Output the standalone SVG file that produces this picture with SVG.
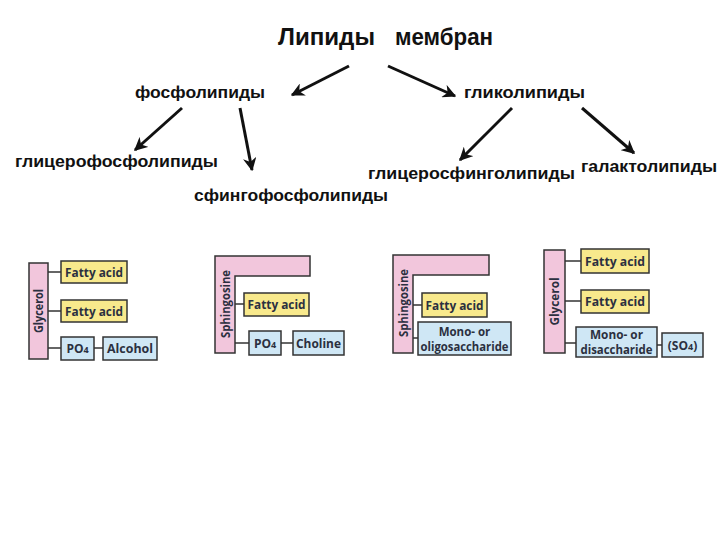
<svg xmlns="http://www.w3.org/2000/svg" width="720" height="540" viewBox="0 0 720 540">
<defs>
<marker id="ah" viewBox="0 0 10 10" refX="9" refY="5" markerWidth="4.5" markerHeight="4.5" orient="auto" markerUnits="strokeWidth">
<path d="M0,0 L10,5 L0,10 L3,5 z" fill="#111"/>
</marker>
<style>
.t{font-family:"Liberation Sans",Arial,sans-serif;font-weight:bold;fill:#111}
.h{font-size:24px}
.s{font-size:16px}
.ar{stroke:#111;stroke-width:3;fill:none;marker-end:url(#ah)}
.pk{fill:#f2c6dc;stroke:#333;stroke-width:1.5}
.ye{fill:#f8e98c;stroke:#333;stroke-width:1.5}
.bl{fill:#cfe7f5;stroke:#333;stroke-width:1.5}
.ln{stroke:#333;stroke-width:1.5}
.l{font-family:"Open Sans","Liberation Sans",sans-serif;font-weight:bold;font-size:12px;fill:#2b3040;text-anchor:middle}
.m{font-size:11.5px}
</style>
</defs>
<rect width="720" height="540" fill="#fff"/>
<g id="connectors">
<line class="ar" x1="349" y1="66" x2="292" y2="95"/>
<line class="ar" x1="388" y1="66" x2="455" y2="96"/>
<line class="ar" x1="182" y1="108" x2="135" y2="150"/>
<line class="ar" x1="240" y1="108" x2="252" y2="170"/>
<line class="ar" x1="512" y1="108" x2="460" y2="160"/>
<line class="ar" x1="582" y1="108" x2="634" y2="153"/>
</g>
<g id="title">
<text class="t h" x="278" y="45" textLength="97" lengthAdjust="spacingAndGlyphs">Липиды</text>
<text class="t h" x="395" y="45" textLength="98" lengthAdjust="spacingAndGlyphs">мембран</text>
</g>
<g id="phospholipids"><text class="t s" x="135" y="98" textLength="130" lengthAdjust="spacingAndGlyphs">фосфолипиды</text></g>
<g id="glycolipids"><text class="t s" x="464" y="98" textLength="121" lengthAdjust="spacingAndGlyphs">гликолипиды</text></g>
<g id="glycerophospholipids"><text class="t s" x="15" y="167" textLength="203" lengthAdjust="spacingAndGlyphs">глицерофосфолипиды</text></g>
<g id="sphingophospholipids"><text class="t s" x="194" y="201" textLength="194" lengthAdjust="spacingAndGlyphs">сфингофосфолипиды</text></g>
<g id="glycerosphingolipids"><text class="t s" x="368" y="179" textLength="207" lengthAdjust="spacingAndGlyphs">глицеросфинголипиды</text></g>
<g id="galactolipids"><text class="t s" x="581" y="172" textLength="136" lengthAdjust="spacingAndGlyphs">галактолипиды</text></g>

<g id="diagram1">
<line class="ln" x1="48" y1="272" x2="61" y2="272"/>
<line class="ln" x1="48" y1="311" x2="61" y2="311"/>
<line class="ln" x1="48" y1="348" x2="61" y2="348"/>
<line class="ln" x1="94" y1="348" x2="103" y2="348"/>
<rect class="pk" x="29" y="263" width="19" height="96"/>
<text class="l" transform="translate(42.5,311) rotate(-90)" textLength="44" lengthAdjust="spacingAndGlyphs">Glycerol</text>
<rect class="ye" x="61" y="261" width="66" height="22"/>
<text class="l" x="94" y="276.5" textLength="58" lengthAdjust="spacingAndGlyphs">Fatty acid</text>
<rect class="ye" x="61" y="300" width="66" height="22"/>
<text class="l" x="94" y="315.5" textLength="58" lengthAdjust="spacingAndGlyphs">Fatty acid</text>
<rect class="bl" x="61" y="337" width="33" height="23"/>
<text class="l" x="77.5" y="353">PO<tspan font-size="9">4</tspan></text>
<rect class="bl" x="103" y="337" width="54" height="23"/>
<text class="l" x="130" y="353" textLength="46" lengthAdjust="spacingAndGlyphs">Alcohol</text>
</g>

<g id="diagram2">
<line class="ln" x1="235" y1="304" x2="244" y2="304"/>
<line class="ln" x1="235" y1="343" x2="249" y2="343"/>
<line class="ln" x1="281" y1="343" x2="293" y2="343"/>
<path class="pk" d="M215,256 H310 V276 H235 V353 H215 Z"/>
<text class="l" transform="translate(229.5,304) rotate(-90)" textLength="68" lengthAdjust="spacingAndGlyphs">Sphingosine</text>
<rect class="ye" x="244" y="293" width="65" height="23"/>
<text class="l" x="276.5" y="309" textLength="58" lengthAdjust="spacingAndGlyphs">Fatty acid</text>
<rect class="bl" x="249" y="331" width="32" height="24"/>
<text class="l" x="265" y="347.5">PO<tspan font-size="9">4</tspan></text>
<rect class="bl" x="293" y="331" width="51" height="24"/>
<text class="l" x="318.5" y="347.5" textLength="45" lengthAdjust="spacingAndGlyphs">Choline</text>
</g>

<g id="diagram3">
<line class="ln" x1="413" y1="305" x2="422" y2="305"/>
<line class="ln" x1="413" y1="338" x2="418" y2="338"/>
<path class="pk" d="M393,255 H489 V275 H413 V353 H393 Z"/>
<text class="l" transform="translate(407.5,303) rotate(-90)" textLength="68" lengthAdjust="spacingAndGlyphs">Sphingosine</text>
<rect class="ye" x="422" y="293" width="65" height="24"/>
<text class="l" x="454.5" y="309.5" textLength="58" lengthAdjust="spacingAndGlyphs">Fatty acid</text>
<rect class="bl" x="418" y="322" width="93" height="33"/>
<text class="l m" x="464.5" y="336">Mono- or</text>
<text class="l m" x="464.5" y="351" textLength="88" lengthAdjust="spacingAndGlyphs">oligosaccharide</text>
</g>

<g id="diagram4">
<line class="ln" x1="565" y1="261" x2="581" y2="261"/>
<line class="ln" x1="565" y1="301" x2="581" y2="301"/>
<line class="ln" x1="565" y1="343" x2="576" y2="343"/>
<line class="ln" x1="657" y1="345" x2="662" y2="345"/>
<rect class="pk" x="544" y="250" width="21" height="103"/>
<text class="l" transform="translate(559,301.5) rotate(-90)" textLength="48" lengthAdjust="spacingAndGlyphs">Glycerol</text>
<rect class="ye" x="581" y="249" width="68" height="24"/>
<text class="l" x="615" y="265.5" textLength="60" lengthAdjust="spacingAndGlyphs">Fatty acid</text>
<rect class="ye" x="581" y="290" width="68" height="23"/>
<text class="l" x="615" y="306" textLength="60" lengthAdjust="spacingAndGlyphs">Fatty acid</text>
<rect class="bl" x="576" y="327" width="81" height="30"/>
<text class="l m" x="616.5" y="339" textLength="53" lengthAdjust="spacingAndGlyphs">Mono- or</text>
<text class="l m" x="616.5" y="354" textLength="72" lengthAdjust="spacingAndGlyphs">disaccharide</text>
<rect class="bl" x="662" y="333" width="41" height="24"/>
<text class="l" x="682.5" y="349.5">(SO<tspan font-size="9">4</tspan>)</text>
</g>
</svg>
